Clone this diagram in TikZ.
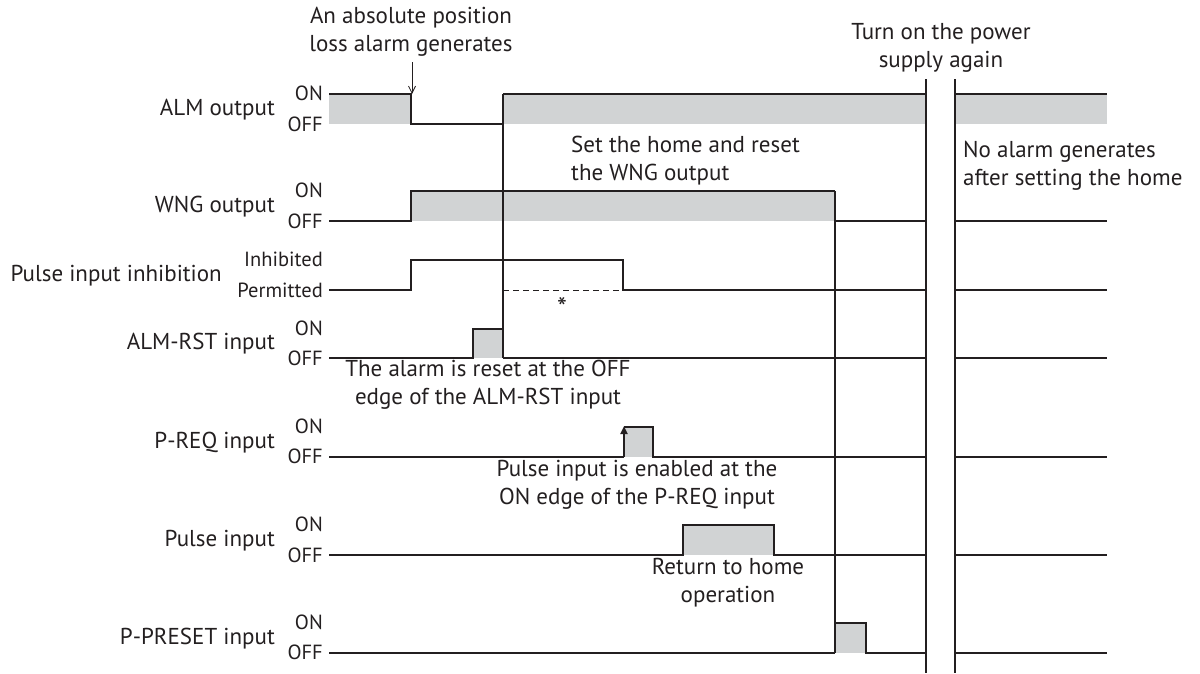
\documentclass[tikz,border=0pt]{standalone}
\usepackage{fontspec}
\setmainfont{PT Sans}
\usetikzlibrary{arrows.meta}
\definecolor{ink}{HTML}{231F20}
\definecolor{shade}{HTML}{D1D3D4}
\begin{document}
\begin{tikzpicture}[x=1pt,y=-1pt,
  sig/.style={draw=ink,line width=1.4pt,line join=miter},
  vline/.style={draw=ink,line width=1.3pt},
  gfill/.style={fill=shade},
  lbl/.style={font=\fontsize{23}{28}\selectfont,text=ink,inner sep=0pt,anchor=east},
  lvl/.style={font=\fontsize{20.5}{24}\selectfont,text=ink,inner sep=0pt,anchor=east},
  note/.style={font=\fontsize{23}{28}\selectfont,text=ink,inner sep=0pt,align=center}]
\useasboundingbox (0,0) rectangle (1200,673);

% ---------- labels ----------
\node[lbl] (lalm) at (275,110) {ALM output};
\node[lvl] (lalmon) at (323,93) {ON};
\node[lvl] (lalmoff) at (323,124) {OFF};
\node[lbl] (lwng) at (275,207) {WNG output};
\node[lvl] (lwngon) at (323,190) {ON};
\node[lvl] (lwngoff) at (323,221) {OFF};
\node[lbl] (lpii) at (222,276) {Pulse input inhibition};
\node[lvl] (lpiion) at (323,259) {Inhibited};
\node[lvl] (lpiioff) at (323,290) {Permitted};
\node[lbl] (lrst) at (275,344) {ALM-RST input};
\node[lvl] (lrston) at (323,328) {ON};
\node[lvl] (lrstoff) at (323,358) {OFF};
\node[lbl] (lpreq) at (275,443) {P-REQ input};
\node[lvl] (lpreqon) at (323,426) {ON};
\node[lvl] (lpreqoff) at (323,456) {OFF};
\node[lbl] (lpulse) at (275,541) {Pulse input};
\node[lvl] (lpulseon) at (323,524) {ON};
\node[lvl] (lpulseoff) at (323,555) {OFF};
\node[lbl] (lpp) at (275,639) {P-PRESET input};
\node[lvl] (lppon) at (323,622) {ON};
\node[lvl] (lppoff) at (323,652) {OFF};

% ---------- ALM output ----------
\fill[gfill] (329,94) rectangle (411,124);
\fill[gfill] (503,94) rectangle (926,124);
\fill[gfill] (955,94) rectangle (1107,124);
\draw[sig] (329,94) -- (411,94) -- (411,124) -- (503,124);
\draw[sig] (503,94) -- (926,94);
\draw[sig] (955,94) -- (1107,94);

% ---------- WNG output ----------
\fill[gfill] (411,191) rectangle (835,221);
\draw[sig] (329,221) -- (411,221) -- (411,191) -- (835,191);
\draw[sig] (835,221) -- (926,221);
\draw[sig] (955,221) -- (1107,221);

% ---------- Pulse input inhibition ----------
\draw[sig] (329,290) -- (411,290) -- (411,260) -- (623,260) -- (623,290) -- (926,290);
\draw[sig] (955,290) -- (1107,290);
\draw[draw=ink,line width=1pt,dash pattern=on 6pt off 4pt] (503,290) -- (623,290);
\node[font=\fontsize{28}{28}\selectfont,text=ink,inner sep=0pt] (ast) at (562,307) {*};

% ---------- ALM-RST input ----------
\fill[gfill] (473,329) rectangle (503,358);
\draw[sig] (329,358) -- (473,358) -- (473,329) -- (503,329);
\draw[sig] (503,358) -- (926,358);
\draw[sig] (955,358) -- (1107,358);

% ---------- P-REQ input ----------
\fill[gfill] (624,427) rectangle (653,457);
\draw[sig] (329,457) -- (624,457);
\draw[sig] (624,427) -- (653,427) -- (653,457) -- (926,457);
\draw[sig] (955,457) -- (1107,457);
\coordinate (preqlo) at (624,457);
\coordinate (preqhi) at (624,426);
\draw[draw=ink,line width=2.4pt,-{Triangle[length=8pt,width=7pt]}] (preqlo) -- (preqhi);

% ---------- Pulse input ----------
\fill[gfill] (683,525) rectangle (774,555);
\draw[sig] (329,555) -- (683,555) -- (683,525) -- (774,525) -- (774,555) -- (926,555);
\draw[sig] (955,555) -- (1107,555);

% ---------- P-PRESET input ----------
\fill[gfill] (835,623) rectangle (866,653);
\draw[sig] (329,653) -- (835,653);
\draw[sig] (835,623) -- (866,623) -- (866,653) -- (926,653);
\draw[sig] (955,653) -- (1107,653);

% ---------- vertical lines ----------
\draw[vline] (503,94) -- (503,358);
\draw[vline] (835,191) -- (835,653);
\draw[vline] (926,79) -- (926,673);
\draw[vline] (955,79) -- (955,673);

% ---------- notes ----------
\node[note] (n1) at (411,32) {An absolute position\\loss alarm generates};
\coordinate (alarmtop) at (412,62);
\coordinate (alarmfall) at (412,94);
\draw[draw=ink,line width=0.8pt,-{Straight Barb[length=7pt,width=7pt]}] (alarmtop) -- (alarmfall);
\node[note] (n2) at (941,48) {Turn on the power\\supply again};
\node[note,align=left,anchor=west] (n3) at (963,166) {No alarm generates\\after setting the home};
\node[note,align=left,anchor=west] (n4) at (571,161) {Set the home and reset\\the WNG output};
\node[note] (n5) at (488,385) {The alarm is reset at the OFF\\edge of the ALM-RST input};
\node[note] (n6) at (637,485) {Pulse input is enabled at the\\ON edge of the P-REQ input};
\node[note] (n7) at (728,583) {Return to home\\operation};
\end{tikzpicture}
\end{document}
